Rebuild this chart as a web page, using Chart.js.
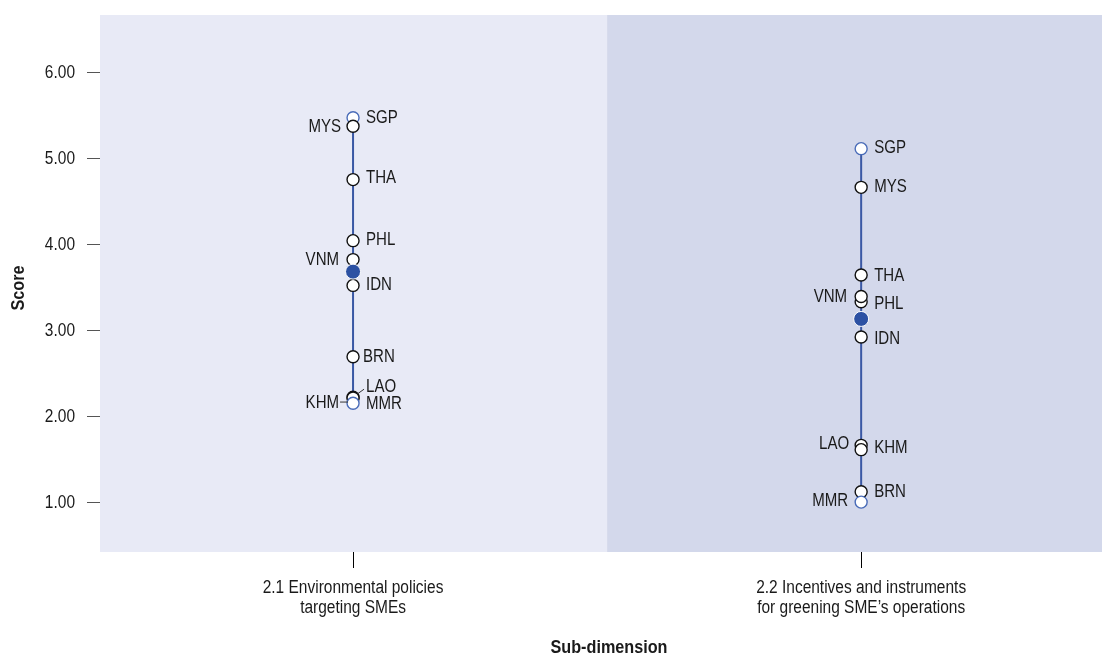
<!DOCTYPE html>
<html>
<head>
<meta charset="utf-8">
<script src="https://cdn.jsdelivr.net/npm/chart.js@4"></script>
<style>
  html, body { margin: 0; padding: 0; background: #fff; }
  #wrap { width: 1102px; height: 655px; }
</style>
</head>
<body>
<div id="wrap"><canvas id="grafico"></canvas></div>
<script>
// datos
const subDimensions = [
    ["2.1 Environmental policies", "targeting SMEs"],
    ["2.2 Incentives and instruments", "for greening SME\u2019s operations"]
];
const countries = ["SGP", "MYS", "THA", "PHL", "VNM", "IDN", "BRN", "LAO", "KHM", "MMR"];
const envPolicies = [5.48, 5.38, 4.76, 4.05, 3.83, 3.53, 2.70, 2.23, 2.22, 2.16];
const greeningIncentives = [5.12, 4.67, 3.65, 3.34, 3.40, 2.93, 1.13, 1.67, 1.62, 1.01];
const averages = [3.69, 3.14];
const yTicks = [1, 2, 3, 4, 5, 6];

// label placement per panel (dx, dy in px, leader = small connector line)
const labelPlacement = [
    { SGP: [13, 0], MYS: [-12, 1], THA: [13, -1], PHL: [13, 0], VNM: [-14, 1], IDN: [13, 0],
      BRN: [10, 0], LAO: [13, -10, true], KHM: [-14, 5, true], MMR: [13, 1] },
    { SGP: [13, 0], MYS: [13, 0], THA: [13, 1], PHL: [13, 2], VNM: [-14, 1], IDN: [13, 2],
      BRN: [13, 0], LAO: [-12, -1], KHM: [13, -1], MMR: [-13, -1] }
];

const FONT = "'Liberation Sans', Arial, sans-serif";
const BLUE = "#3a58a4";
const panelValues = [envPolicies, greeningIncentives];

// narrow-looking text: squeeze horizontally
function narrowText(ctx, txt, x, y, opts) {
    const o = Object.assign({ size: 18, bold: false, align: "center", squeeze: 0.86, rotate: 0 }, opts);
    ctx.save();
    ctx.translate(x, y);
    if (o.rotate) ctx.rotate(o.rotate);
    ctx.scale(o.squeeze, 1);
    ctx.font = (o.bold ? "bold " : "") + o.size + "px " + FONT;
    ctx.textAlign = o.align;
    ctx.textBaseline = "middle";
    ctx.fillText(txt, 0, 0);
    ctx.restore();
}

const datasets = [];
panelValues.forEach((vals, i) => {
    const lo = Math.min(...vals), hi = Math.max(...vals);
    datasets.push({
        type: "line",
        data: [{ x: i + 1, y: lo }, { x: i + 1, y: hi }],
        borderColor: BLUE,
        borderWidth: 2,
        pointRadius: 0,
        order: 3
    });
    datasets.push({
        type: "scatter",
        data: vals.map(v => ({ x: i + 1, y: v })),
        pointRadius: 6,
        pointBorderWidth: 1.4,
        pointBackgroundColor: "#ffffff",
        pointBorderColor: vals.map(v => (v === lo || v === hi) ? "#4a6cb8" : "#111111"),
        order: 2
    });
});
datasets.push({
    type: "scatter",
    data: averages.map((v, i) => ({ x: i + 1, y: v })),
    pointRadius: 7.5,
    pointBorderWidth: 1,
    pointBackgroundColor: "#2c51a3",
    pointBorderColor: "#ffffff",
    order: 1
});

const panelsPlugin = {
    id: "panels",
    beforeDatasetsDraw(chart) {
        const { ctx, chartArea: a, scales: { x } } = chart;
        const mid = x.getPixelForValue(1.5);
        ctx.save();
        ctx.fillStyle = "#e8eaf6";
        ctx.fillRect(a.left, a.top, mid - a.left, a.bottom - a.top);
        ctx.fillStyle = "#d3d8eb";
        ctx.fillRect(mid, a.top, a.right - mid, a.bottom - a.top);
        ctx.restore();
    }
};

const labelsPlugin = {
    id: "countryLabels",
    afterDatasetsDraw(chart) {
        const { ctx, scales: { x, y } } = chart;
        ctx.save();
        ctx.fillStyle = "#1a1a1a";
        panelValues.forEach((vals, i) => {
            const px = x.getPixelForValue(i + 1);
            countries.forEach((c, k) => {
                const py = y.getPixelForValue(vals[k]);
                const p = labelPlacement[i][c];
                narrowText(ctx, c, px + p[0], py + p[1], { size: 17.5, align: p[0] < 0 ? "right" : "left" });
                if (p[2]) {
                    ctx.strokeStyle = "#333";
                    ctx.lineWidth = 1;
                    ctx.beginPath();
                    if (p[0] > 0) {
                        ctx.moveTo(px + 4, py - 3);
                        ctx.lineTo(px + p[0] - 2, py + p[1] + 2);
                    } else {
                        ctx.moveTo(px + p[0] + 1, py + p[1] - 1);
                        ctx.lineTo(px - 5, py + p[1] - 1);
                    }
                    ctx.stroke();
                }
            });
        });
        ctx.restore();
    }
};

// axis texts drawn squeezed to look like the narrow face of the original
const axisTextPlugin = {
    id: "axisText",
    afterDraw(chart) {
        const { ctx, chartArea: a, scales: { x, y } } = chart;
        ctx.save();
        ctx.fillStyle = "#1a1a1a";
        yTicks.forEach(v => {
            narrowText(ctx, v.toFixed(2), 75, y.getPixelForValue(v), { align: "right" });
        });
        subDimensions.forEach((lines, i) => {
            const px = x.getPixelForValue(i + 1);
            lines.forEach((ln, j) => narrowText(ctx, ln, px, 588 + j * 20, {}));
        });
        narrowText(ctx, "Sub-dimension", a.left + (a.right - a.left) * 0.508, 648, { bold: true, squeeze: 0.9 });
        narrowText(ctx, "Score", 19, 288, { bold: true, squeeze: 0.9, rotate: -Math.PI / 2 });
        ctx.restore();
    }
};

new Chart(document.getElementById("grafico").getContext("2d"), {
    data: { datasets: datasets },
    options: {
        responsive: true,
        maintainAspectRatio: false,
        animation: false,
        layout: { autoPadding: false, padding: { top: 15, right: 0, left: 0, bottom: 0 } },
        plugins: { legend: { display: false }, tooltip: { enabled: false } },
        scales: {
            x: {
                type: "linear",
                min: 0.502,
                max: 2.474,
                afterBuildTicks: axis => { axis.ticks = [{ value: 1 }, { value: 2 }]; },
                afterFit: axis => { axis.height = 103; axis.paddingLeft = 0; axis.paddingRight = 0; },
                ticks: { display: false },
                grid: { drawOnChartArea: false, drawTicks: true, tickLength: 16, color: "#000" },
                border: { display: false }
            },
            y: {
                min: 0.43,
                max: 6.674,
                afterBuildTicks: axis => { axis.ticks = yTicks.map(v => ({ value: v })); },
                afterFit: axis => { axis.width = 100; axis.paddingTop = 0; axis.paddingBottom = 0; },
                ticks: { display: false },
                grid: { drawOnChartArea: false, drawTicks: true, tickLength: 13, color: "#555" },
                border: { display: false }
            }
        }
    },
    plugins: [panelsPlugin, labelsPlugin, axisTextPlugin]
});
</script>
</body>
</html>
